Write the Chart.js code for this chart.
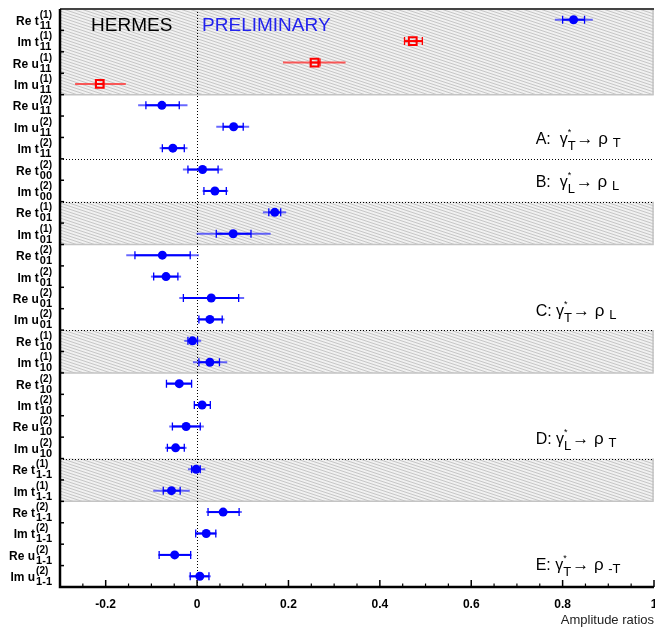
<!DOCTYPE html>
<html>
<head>
<meta charset="utf-8">
<script src="https://cdn.jsdelivr.net/npm/chart.js@4.4.1/dist/chart.umd.min.js"></script>
<style>
  html, body { margin: 0; padding: 0; background: #fff; overflow: hidden; }
  canvas { display: block; }
</style>
</head>
<body>
<canvas id="c" width="655" height="628"></canvas>
<script>
// --- rows, top to bottom ---
const rowPart = ['Re','Im','Re','Im','Re','Im','Im','Re','Im','Re','Im','Re','Im','Re','Im','Re','Im','Re','Im','Re','Im','Re','Im','Re','Im','Re','Im'];
const rowSym  = ['t','t','u','u','u','u','t','t','t','t','t','t','t','u','u','t','t','t','t','u','u','t','t','t','t','u','u'];
const rowSub  = ['11','11','11','11','11','11','11','00','00','01','01','01','01','01','01','10','10','10','10','10','10','1-1','1-1','1-1','1-1','1-1','1-1'];
const rowSup  = ['(1)','(1)','(1)','(1)','(2)','(2)','(2)','(2)','(2)','(1)','(1)','(2)','(2)','(2)','(2)','(1)','(1)','(2)','(2)','(2)','(2)','(1)','(1)','(2)','(2)','(2)','(2)'];

// amplitude ratio values, stat error range, total error range
const values = [0.824, 0.472, 0.257, -0.213, -0.077, 0.080, -0.053, 0.012, 0.039, 0.170, 0.079, -0.076, -0.068, 0.031, 0.028, -0.010, 0.028, -0.039, 0.011, -0.024, -0.047, -0.002, -0.056, 0.057, 0.020, -0.049, 0.006];
const statLo = [0.800, 0.454, 0.249, -0.221, -0.112, 0.057, -0.076, -0.020, 0.015, 0.157, 0.042, -0.136, -0.095, -0.030, 0.004, -0.020, 0.004, -0.067, -0.006, -0.054, -0.065, -0.012, -0.074, 0.024, -0.003, -0.083, -0.015];
const statHi = [0.848, 0.493, 0.269, -0.205, -0.039, 0.101, -0.028, 0.046, 0.064, 0.183, 0.118, -0.015, -0.042, 0.091, 0.055, 0.001, 0.049, -0.012, 0.029, 0.007, -0.028, 0.007, -0.037, 0.092, 0.041, -0.014, 0.026];
const totLo  = [0.783, 0.454, 0.188, -0.267, -0.129, 0.042, -0.082, -0.031, 0.012, 0.144, -0.001, -0.155, -0.101, -0.039, 0.001, -0.028, -0.009, -0.068, -0.007, -0.061, -0.070, -0.020, -0.096, 0.020, -0.004, -0.085, -0.018];
const totHi  = [0.866, 0.493, 0.325, -0.156, -0.021, 0.114, -0.021, 0.056, 0.068, 0.195, 0.161, 0.004, -0.035, 0.103, 0.060, 0.009, 0.066, -0.011, 0.030, 0.015, -0.023, 0.018, -0.016, 0.098, 0.043, -0.012, 0.030];
const redRows = [1, 2, 3];

const xTickValues = [-0.2, 0, 0.2, 0.4, 0.6, 0.8, 1];
const xTickLabels = ['-0.2', '0', '0.2', '0.4', '0.6', '0.8', '1'];
const shadedBands = [[-0.5, 3.5], [8.5, 10.5], [14.5, 16.5], [20.5, 22.5]];
const dottedRows = [6.5, 8.5, 14.5, 20.5];
const groupLetters = ['A', 'B', 'C', 'D', 'E'];
const groupRows    = [5.5, 7.5, 13.5, 19.5, 25.4];
const groupPhoton  = ['T', 'L', 'T', 'L', 'T'];
const groupRho     = ['T', 'L', 'L', 'T', '-T'];

const FONT = "'Liberation Sans', Arial, sans-serif";
const BLUE = '#0000ff';
const RED = '#ff0000';

// hatch pattern for the shaded bands
function makeHatch(ctx) {
  const p = document.createElement('canvas');
  p.width = 9; p.height = 3;
  const pc = p.getContext('2d');
  pc.fillStyle = '#f1f1f1';
  pc.fillRect(0, 0, 9, 3);
  pc.strokeStyle = '#c6c6c6';
  pc.lineWidth = 1;
  [-3, 0, 3].forEach(o => {
    pc.beginPath(); pc.moveTo(0, o); pc.lineTo(9, o + 3); pc.stroke();
  });
  return ctx.createPattern(p, 'repeat');
}

const bluePts = [], redPts = [];
values.forEach((v, i) => (redRows.includes(i) ? redPts : bluePts).push({ x: v, y: i }));

const decor = {
  id: 'decor',
  beforeDatasetsDraw(chart) {
    const { ctx, chartArea: a, scales: { x, y } } = chart;
    ctx.save();
    // bands
    const hatch = makeHatch(ctx);
    shadedBands.forEach(([b0, b1]) => {
      const y0 = y.getPixelForValue(b0), y1 = y.getPixelForValue(b1);
      ctx.fillStyle = hatch;
      ctx.fillRect(a.left, y0, a.right - a.left, y1 - y0);
      ctx.strokeStyle = '#c4c4c4';
      ctx.lineWidth = 1.5;
      ctx.beginPath();
      ctx.moveTo(a.left, y1); ctx.lineTo(a.right - 1, y1); ctx.lineTo(a.right - 1, y0);
      ctx.stroke();
    });
    // dotted separators + zero line
    ctx.strokeStyle = '#000';
    ctx.lineWidth = 1;
    ctx.setLineDash([1, 2]);
    dottedRows.forEach(r => {
      const py = Math.round(y.getPixelForValue(r)) + 0.5;
      ctx.beginPath(); ctx.moveTo(a.left, py); ctx.lineTo(a.right, py); ctx.stroke();
    });
    const zx = Math.round(x.getPixelForValue(0)) + 0.5;
    ctx.beginPath(); ctx.moveTo(zx, a.top); ctx.lineTo(zx, a.bottom); ctx.stroke();
    ctx.setLineDash([]);

    // error bars
    values.forEach((v, i) => {
      const red = redRows.includes(i);
      const py = y.getPixelForValue(i);
      const lx = x.getPixelForValue(totLo[i]), hx = x.getPixelForValue(totHi[i]);
      const sl = x.getPixelForValue(statLo[i]), sh = x.getPixelForValue(statHi[i]);
      ctx.lineWidth = 2;
      ctx.strokeStyle = red ? 'rgba(255,40,40,0.75)' : 'rgba(40,40,255,0.7)';
      ctx.beginPath(); ctx.moveTo(lx, py); ctx.lineTo(hx, py); ctx.stroke();
      ctx.strokeStyle = red ? RED : BLUE;
      ctx.beginPath(); ctx.moveTo(sl, py); ctx.lineTo(sh, py); ctx.stroke();
      ctx.lineWidth = 1.3;
      ctx.beginPath();
      ctx.moveTo(sl, py - 4); ctx.lineTo(sl, py + 4);
      ctx.moveTo(sh, py - 4); ctx.lineTo(sh, py + 4);
      ctx.stroke();
    });
    ctx.restore();
  },
  afterDraw(chart) {
    const { ctx, chartArea: a, scales: { x, y } } = chart;
    ctx.save();
    // frame: top grey, left and bottom black
    ctx.strokeStyle = '#444';
    ctx.lineWidth = 2;
    ctx.beginPath(); ctx.moveTo(a.left, a.top); ctx.lineTo(a.right, a.top); ctx.stroke();
    ctx.strokeStyle = '#000';
    ctx.lineWidth = 2.5;
    ctx.beginPath();
    ctx.moveTo(a.left, a.top); ctx.lineTo(a.left, a.bottom); ctx.lineTo(a.right, a.bottom);
    ctx.stroke();
    // y ticks at row boundaries
    ctx.lineWidth = 1.5;
    for (let r = 0.5; r < 26; r += 1) {
      const py = y.getPixelForValue(r);
      ctx.beginPath(); ctx.moveTo(a.left, py); ctx.lineTo(a.left + 4, py); ctx.stroke();
    }
    // x ticks, major 0.2 and minor 0.05
    for (let k = -6; k <= 20; k++) {
      const v = k * 0.05;
      const px = x.getPixelForValue(v);
      const major = k % 4 === 0;
      ctx.lineWidth = major ? 1.5 : 1.2;
      ctx.beginPath(); ctx.moveTo(px, a.bottom); ctx.lineTo(px, a.bottom - (major ? 7 : 3.5)); ctx.stroke();
    }
    // x tick labels
    ctx.fillStyle = '#000';
    ctx.font = 'bold 12px ' + FONT;
    ctx.textAlign = 'center';
    ctx.textBaseline = 'alphabetic';
    xTickValues.forEach((v, k) => ctx.fillText(xTickLabels[k], x.getPixelForValue(v), a.bottom + 21));
    // y row labels
    ctx.textAlign = 'left';
    rowPart.forEach((part, i) => {
      const py = y.getPixelForValue(i);
      const main = part + ' ' + rowSym[i];
      ctx.font = 'bold 12px ' + FONT;
      const mw = ctx.measureText(main).width;
      ctx.font = 'bold 11px ' + FONT;
      const sw = ctx.measureText(rowSub[i]).width;
      ctx.font = 'bold 10px ' + FONT;
      const uw = ctx.measureText(rowSup[i]).width;
      const x0 = 52 - mw - 1 - Math.max(sw, uw);
      ctx.font = 'bold 12px ' + FONT;
      ctx.fillText(main, x0, py + 5);
      ctx.font = 'bold 11px ' + FONT;
      ctx.fillText(rowSub[i], x0 + mw + 1, py + 9);
      ctx.font = 'bold 10px ' + FONT;
      ctx.fillText(rowSup[i], x0 + mw + 1, py - 2);
    });
    // HERMES / PRELIMINARY
    ctx.font = '19px ' + FONT;
    ctx.fillStyle = '#000';
    ctx.fillText('HERMES', x.getPixelForValue(-0.232), y.getPixelForValue(0) + 11);
    ctx.fillStyle = '#2222ee';
    ctx.fillText('PRELIMINARY', x.getPixelForValue(0.011), y.getPixelForValue(0) + 11);
    // group labels
    ctx.fillStyle = '#000';
    groupLetters.forEach((g, k) => {
      let px = x.getPixelForValue(0.741);
      const base = y.getPixelForValue(groupRows[k]) + 7;
      ctx.font = '16px ' + FONT;
      const head = g + (k < 2 ? ':  ' : ': ');
      ctx.fillText(head, px, base); px += ctx.measureText(head).width;
      ctx.fillText('\u03b3', px, base); px += ctx.measureText('\u03b3').width;
      ctx.font = '9px ' + FONT;
      ctx.fillText('*', px, base - 9);
      ctx.font = '13px ' + FONT;
      ctx.fillText(groupPhoton[k], px, base + 6);
      px += ctx.measureText(groupPhoton[k]).width + 1;
      ctx.font = '17px ' + FONT;
      const arr = '\u2192 \u03c1';
      ctx.fillText(arr, px, base); px += ctx.measureText(arr + ' ').width;
      ctx.font = '13px ' + FONT;
      ctx.fillText(groupRho[k], px, base + 3);
    });
    ctx.restore();
  }
};

new Chart(document.getElementById('c'), {
  type: 'scatter',
  data: {
    datasets: [
      { data: bluePts, pointStyle: 'circle', pointRadius: 4.5, pointHoverRadius: 4.5,
        backgroundColor: BLUE, borderColor: BLUE, borderWidth: 0 },
      { data: redPts, pointStyle: 'rect', pointRadius: 5.5, pointHoverRadius: 5.5,
        backgroundColor: 'rgba(0,0,0,0)', borderColor: RED, borderWidth: 2 }
    ]
  },
  options: {
    responsive: false,
    animation: false,
    events: [],
    layout: { autoPadding: false, padding: { left: 60, top: 9, right: 1, bottom: 0 } },
    plugins: { legend: { display: false }, tooltip: { enabled: false } },
    scales: {
      x: {
        type: 'linear', min: -0.3, max: 1.0,
        afterBuildTicks: s => { s.ticks = xTickValues.map(v => ({ value: v })); },
        afterFit: s => { s.height = 41; },
        grid: { display: false, drawTicks: false },
        border: { display: false },
        ticks: { display: false },
        title: { display: true, text: 'Amplitude ratios', align: 'end', color: '#222',
          font: { family: FONT, size: 13 }, padding: { top: 0, bottom: 0 } }
      },
      y: { type: 'linear', min: -0.5, max: 26.5, reverse: true, display: false }
    }
  },
  plugins: [decor]
});
</script>
</body>
</html>
